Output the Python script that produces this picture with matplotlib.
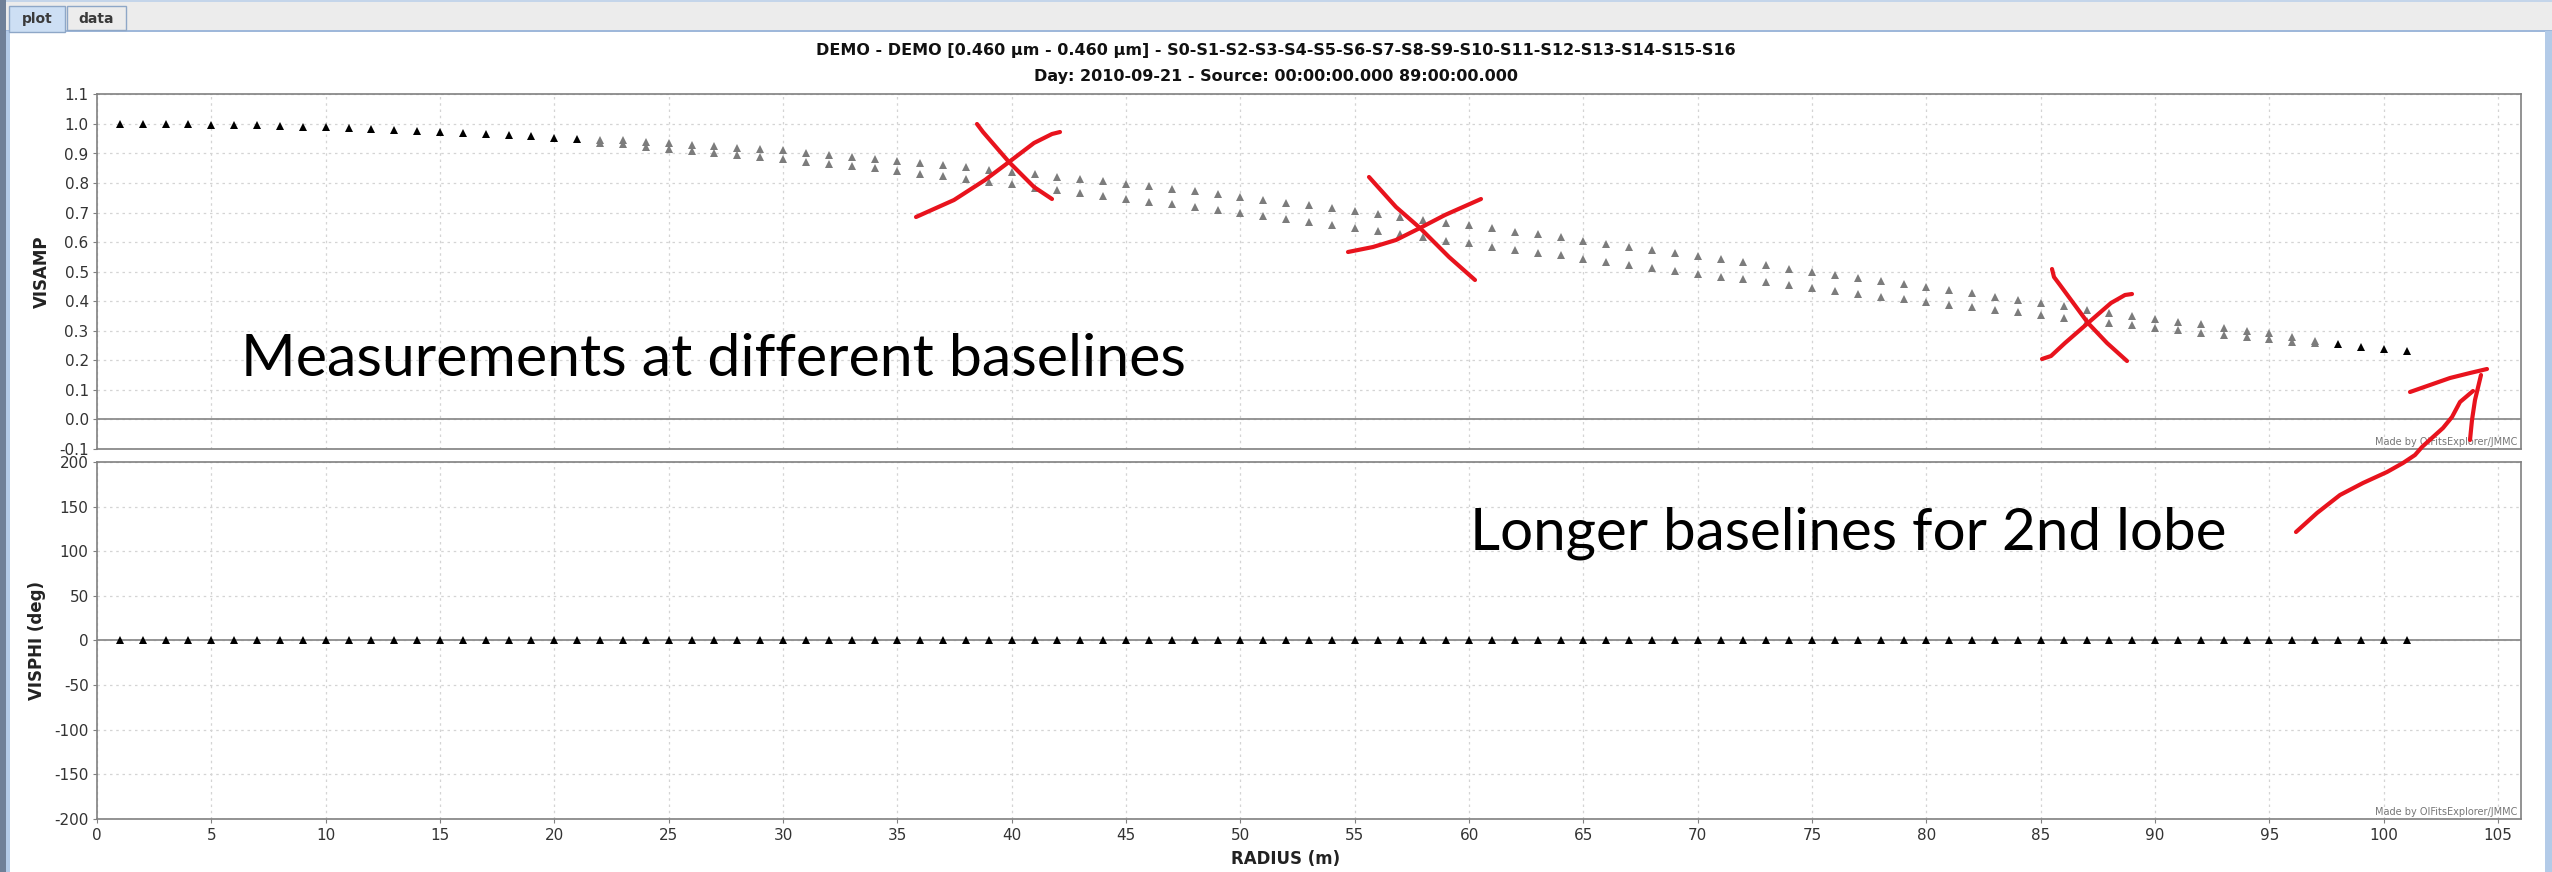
import numpy as np
import matplotlib.pyplot as plt
from matplotlib.patches import Rectangle

# baseline radius (m), one measurement per metre
radius = np.arange(1, 102)

# VISAMP, upper and lower group of baselines (they overlap at both ends)
vis_upper = [
    1.000, 1.000, 1.000, 1.000, 0.998, 0.997, 0.995, 0.993, 0.990, 0.988,
    0.986, 0.983, 0.980, 0.977, 0.973, 0.970, 0.966, 0.963, 0.958, 0.954,
    0.949, 0.946, 0.944, 0.939, 0.935, 0.929, 0.925, 0.920, 0.915, 0.911,
    0.903, 0.895, 0.889, 0.882, 0.874, 0.868, 0.861, 0.853, 0.845, 0.837,
    0.831, 0.821, 0.814, 0.806, 0.797, 0.789, 0.780, 0.772, 0.763, 0.753,
    0.744, 0.734, 0.725, 0.715, 0.705, 0.695, 0.686, 0.676, 0.666, 0.657,
    0.647, 0.635, 0.626, 0.616, 0.605, 0.595, 0.585, 0.573, 0.564, 0.553,
    0.542, 0.533, 0.522, 0.510, 0.500, 0.489, 0.480, 0.470, 0.457, 0.447,
    0.437, 0.427, 0.415, 0.405, 0.394, 0.384, 0.370, 0.359, 0.350, 0.341,
    0.331, 0.322, 0.310, 0.299, 0.291, 0.278, 0.265, 0.254, 0.244, 0.238,
    0.232]
vis_lower = [
    1.000, 1.000, 1.000, 1.000, 0.998, 0.997, 0.995, 0.993, 0.990, 0.988,
    0.986, 0.983, 0.980, 0.977, 0.973, 0.970, 0.966, 0.963, 0.958, 0.954,
    0.949, 0.937, 0.931, 0.923, 0.916, 0.908, 0.902, 0.895, 0.888, 0.881,
    0.872, 0.864, 0.858, 0.850, 0.841, 0.832, 0.823, 0.814, 0.805, 0.796,
    0.783, 0.776, 0.766, 0.757, 0.747, 0.737, 0.728, 0.719, 0.709, 0.699,
    0.688, 0.678, 0.668, 0.657, 0.647, 0.637, 0.627, 0.616, 0.605, 0.596,
    0.585, 0.573, 0.564, 0.555, 0.544, 0.534, 0.524, 0.514, 0.503, 0.493,
    0.483, 0.474, 0.465, 0.455, 0.445, 0.436, 0.425, 0.415, 0.407, 0.397,
    0.388, 0.379, 0.370, 0.362, 0.352, 0.343, 0.333, 0.327, 0.319, 0.311,
    0.302, 0.294, 0.287, 0.278, 0.271, 0.263, 0.258, 0.254, 0.244, 0.238,
    0.232]
# VISPHI (deg), flat zero for every baseline
visphi = [0.0] * len(radius)

title1 = 'DEMO - DEMO [0.460 µm - 0.460 µm] - S0-S1-S2-S3-S4-S5-S6-S7-S8-S9-S10-S11-S12-S13-S14-S15-S16'
title2 = 'Day: 2010-09-21 - Source: 00:00:00.000 89:00:00.000'
credit = 'Made by OIFitsExplorer/JMMC'
note1 = 'Measurements at different baselines'
note2 = 'Longer baselines for 2nd lobe'

# hand drawn red marks, in screen pixels
red_strokes = [
    [(977, 124), (983, 132), (1009, 162), (1034, 187), (1052, 199)],
    [(916, 217), (954, 200), (985, 180), (1009, 162), (1034, 143), (1052, 134), (1060, 132)],
    [(1369, 177), (1396, 207), (1420, 228), (1449, 257), (1475, 280)],
    [(1348, 252), (1373, 247), (1396, 240), (1420, 228), (1445, 215), (1481, 199)],
    [(2052, 269), (2054, 277), (2060, 285), (2088, 323), (2107, 343), (2127, 361)],
    [(2042, 359), (2051, 356), (2065, 343), (2088, 323), (2111, 303), (2125, 295), (2132, 294)],
    [(2296, 532), (2317, 513), (2340, 495), (2363, 483), (2387, 472), (2403, 463), (2415, 455),
     (2422, 447), (2433, 437), (2443, 428), (2452, 417), (2460, 402), (2473, 391)],
    [(2410, 392), (2430, 385), (2450, 378), (2470, 373), (2487, 369)],
    [(2470, 440), (2472, 420), (2475, 400), (2481, 375)],
]

W, H = 2552, 872
plt.rcParams['font.family'] = 'DejaVu Sans'
plt.rcParams['axes.unicode_minus'] = False
fig = plt.figure(figsize=(W / 100, H / 100), dpi=100)
fig.patch.set_facecolor('white')

ax1 = fig.add_axes([97 / W, 1 - 449 / H, 2424 / W, 354.6 / H])
ax2 = fig.add_axes([97 / W, 1 - 818.7 / H, 2424 / W, 356.7 / H])

up = np.array(vis_upper)
low = np.array(vis_lower)
same = np.isclose(up, low, atol=0.002)

ax1.plot(radius[same], up[same], '^', color='black', ms=5.5, mew=0, zorder=3)
ax1.plot(radius[~same], up[~same], '^', color='#7c7c7c', ms=5.5, mew=0, zorder=3)
ax1.plot(radius[~same], low[~same], '^', color='#7c7c7c', ms=5.5, mew=0, zorder=3)
ax2.plot(radius, visphi, '^', color='black', ms=5.5, mew=0, zorder=3)

for ax in (ax1, ax2):
    ax.set_xlim(0, 106)
    ax.set_xticks(np.arange(0, 106, 5))
    ax.axhline(0, color='#8c8c8c', lw=1.3, zorder=2)
    ax.grid(True, color='#d4d4d4', linestyle=(0, (2, 3)), linewidth=0.9)
    ax.set_axisbelow(True)
    for s in ax.spines.values():
        s.set_color('#808080')
        s.set_linewidth(1.2)
    ax.tick_params(axis='y', labelsize=11, length=3, pad=3, color='#808080', labelcolor='#333333')
    ax.annotate(credit, xy=(1, 0), xycoords='axes fraction', xytext=(-4, 4),
                textcoords='offset pixels', ha='right', va='baseline', fontsize=7, color='#777777')

ax1.set_ylim(-0.1, 1.1)
ax1.set_yticks(np.round(np.arange(-0.1, 1.15, 0.1), 1))
ax1.set_yticklabels([f'{v:.1f}' for v in np.arange(-0.1, 1.15, 0.1)])
ax1.tick_params(axis='x', labelbottom=False, length=0)
ax1.set_ylabel('VISAMP', fontsize=12, fontweight='bold', color='#222222')
ax1.yaxis.set_label_coords(-0.019, 0.5)

ax2.set_ylim(-200, 200)
ax2.set_yticks(np.arange(-200, 201, 50))
ax2.tick_params(axis='x', labelsize=11, length=3, pad=4, color='#808080', labelcolor='#333333')
ax2.set_ylabel('VISPHI (deg)', fontsize=12, fontweight='bold', color='#222222')
ax2.yaxis.set_label_coords(-0.021, 0.5)

fig.text(0.5, 1 - 50 / H, title1, ha='center', va='center', fontsize=11.5, fontweight='bold', color='#111111')
fig.text(0.5, 1 - 76.5 / H, title2, ha='center', va='center', fontsize=11.5, fontweight='bold', color='#111111')
fig.text(1286 / W, 1 - 859 / H, 'RADIUS (m)', ha='center', va='center', fontsize=12, fontweight='bold', color='#222222')

# overlay in screen pixels: window chrome, notes and red pen marks
ov = fig.add_axes([0, 0, 1, 1])
ov.set_xlim(0, W)
ov.set_ylim(H, 0)
ov.axis('off')
ov.patch.set_alpha(0)

ov.add_patch(Rectangle((0, 0), W, 31, color='#ececec', lw=0))
ov.add_patch(Rectangle((0, 0), W, 2, color='#c4d5ea', lw=0))
ov.add_patch(Rectangle((0, 30), W, 2.5, color='#9fb8da', lw=0))
ov.add_patch(Rectangle((0, 0), 6, H, color='#6f8098', lw=0))
ov.add_patch(Rectangle((6, 31), 4, H, color='#b3cbe8', lw=0))
ov.add_patch(Rectangle((W - 7, 31), 7, H, color='#b3cbe8', lw=0))
ov.add_patch(Rectangle((9, 6), 56, 26, fc='#cddff4', ec='#8ea7c7', lw=1))
ov.add_patch(Rectangle((67, 6), 59, 24, fc='#ececec', ec='#8ea7c7', lw=1))
ov.text(37, 19, 'plot', ha='center', va='center', fontsize=10, fontweight='bold', color='#3a3a3a')
ov.text(96, 19, 'data', ha='center', va='center', fontsize=10, fontweight='bold', color='#3a3a3a')

ov.text(241, 376, note1, ha='left', va='baseline', fontsize=42.5, family='Lato', color='black')
ov.text(1470, 549, note2, ha='left', va='baseline', fontsize=42, family='Lato', color='black')

for stroke in red_strokes:
    xs, ys = zip(*stroke)
    ov.plot(xs, ys, color='#e8131d', lw=3, solid_capstyle='round', solid_joinstyle='round')

fig.savefig('out.png', dpi=100)
